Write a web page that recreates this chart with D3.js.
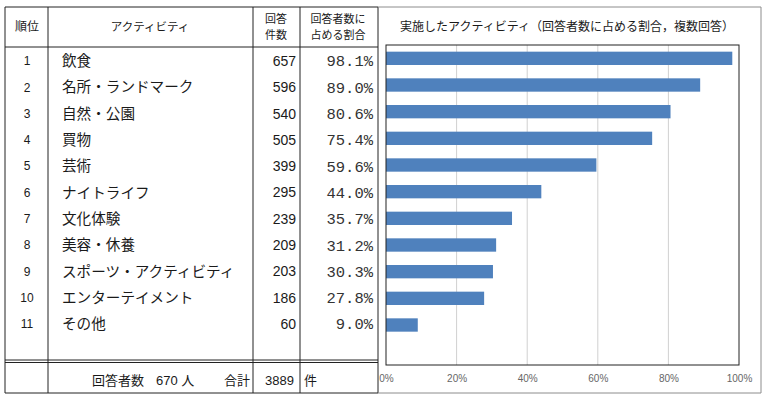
<!DOCTYPE html>
<html><head><meta charset="utf-8">
<script src="https://cdn.jsdelivr.net/npm/d3@7"></script>
<style>body{margin:0;background:#fff}svg{display:block}</style>
</head><body>
<svg id="c" width="767" height="400"></svg>
<script>
const ranks = [1,2,3,4,5,6,7,8,9,10,11];
const categories = ["飲食","名所・ランドマーク","自然・公園","買物","芸術","ナイトライフ","文化体験","美容・休養","スポーツ・アクティビティ","エンターテイメント","その他"];
const counts = [657,596,540,505,399,295,239,209,203,186,60];
const shares = [98.1,89.0,80.6,75.4,59.6,44.0,35.7,31.2,30.3,27.8,9.0];
const xTicks = [0,20,40,60,80,100];
const respondents = 670;
const total = 3889;

const svg = d3.select("#c");
const jp = "'Noto Sans CJK JP', sans-serif";
const ink = "#1a1a1a";

// ---- table ----
const T = {l:5, t:7, r:378, b:393, c1:48, c2:253, c3:300, hb:47, dbl:361};
const rowY = d3.scalePoint().domain(d3.range(categories.length)).range([61, 324]);
const line = (x1,y1,x2,y2,w=1,c="#222") => svg.append("line").attr("x1",x1).attr("y1",y1).attr("x2",x2).attr("y2",y2).attr("stroke",c).attr("stroke-width",w);
line(T.l,T.t,T.r,T.t);
line(T.l,T.b,T.r,T.b);
line(T.l,T.t,T.l,T.b);
line(T.c1,T.t,T.c1,T.b);
line(T.c2,T.t,T.c2,T.b);
line(T.c3,T.t,T.c3,T.b);
line(T.r,T.t,T.r,T.b);
line(T.l,T.hb,T.r,T.hb);
line(T.l,T.dbl-1,T.r,T.dbl-1,1);
line(T.l,T.dbl+1.5,T.r,T.dbl+1.5,1);

const txt = (x,y,s,o={}) => svg.append("text").attr("x",x).attr("y",y).attr("dy","0.35em")
  .attr("text-anchor",o.a||"start").attr("font-family",o.f||jp).attr("font-size",o.s||12).attr("fill",o.c||ink).text(s);

// header
txt(27,27,"順位",{a:"middle",s:12});
txt(150,27,"アクティビティ",{a:"middle",s:11.5});
txt(276,19,"回答",{a:"middle",s:11});
txt(276,35,"件数",{a:"middle",s:11});
txt(338,19,"回答者数に",{a:"middle",s:11});
txt(338,35,"占める割合",{a:"middle",s:11});

// rows
ranks.forEach((r,i)=>{
  const y = rowY(i);
  txt(27,y,r,{a:"middle",s:12,f:"'Liberation Sans', sans-serif"});
  txt(62,y,categories[i],{s:14.6});
  txt(296,y,counts[i],{a:"end",s:14,f:"'Liberation Sans', sans-serif"});
  txt(373,y,shares[i].toFixed(1)+"%",{a:"end",s:15.5,f:"'Liberation Mono', monospace",c:"#333"});
});

// footer
txt(92,380,"回答者数 ",{s:13});
txt(156,380,respondents+" 人",{s:13,f:"'Liberation Sans', "+jp});
txt(250,380,"合計",{a:"end",s:13});
txt(294,380,total,{a:"end",s:13,f:"'Liberation Sans', sans-serif"});
txt(304,380,"件",{s:13});

// ---- chart ----
line(378,7,761,7,1,"#8c8c8c");
line(761,7,761,393,1,"#8c8c8c");
line(378,393,761,393,1,"#8c8c8c");

const P = {l:386, r:739, t:45, b:365};
const x = d3.scaleLinear().domain([0,100]).range([P.l,P.r]);
const y = d3.scaleBand().domain(d3.range(categories.length+1)).range([P.t,P.b]).paddingInner(0.5).paddingOuter(0.25);

txt(567,27,"実施したアクティビティ（回答者数に占める割合，複数回答）",{a:"middle",s:12});

const g = svg.append("g");
g.selectAll(".grid").data(xTicks.slice(1,-1)).join("line")
  .attr("x1",d=>x(d)).attr("x2",d=>x(d)).attr("y1",P.t).attr("y2",P.b)
  .attr("stroke","#d0d0d0").attr("stroke-width",1);

g.selectAll(".bar").data(shares).join("rect")
  .attr("x",x(0)).attr("y",(d,i)=>y(i)).attr("width",d=>x(d)-x(0)).attr("height",y.bandwidth())
  .attr("fill","#4f81bd");

g.append("rect").attr("x",P.l).attr("y",P.t).attr("width",P.r-P.l).attr("height",P.b-P.t)
  .attr("fill","none").attr("stroke","#222").attr("stroke-width",1);

const ax = svg.append("g").attr("transform",`translate(0,${P.b})`)
  .call(d3.axisBottom(x).tickValues(xTicks).tickSize(0).tickPadding(10).tickFormat(d=>d+"%"));
ax.select(".domain").remove();
ax.selectAll("text").attr("font-family","'Liberation Sans', sans-serif").attr("font-size",10).attr("fill","#666");
</script>
</body></html>
